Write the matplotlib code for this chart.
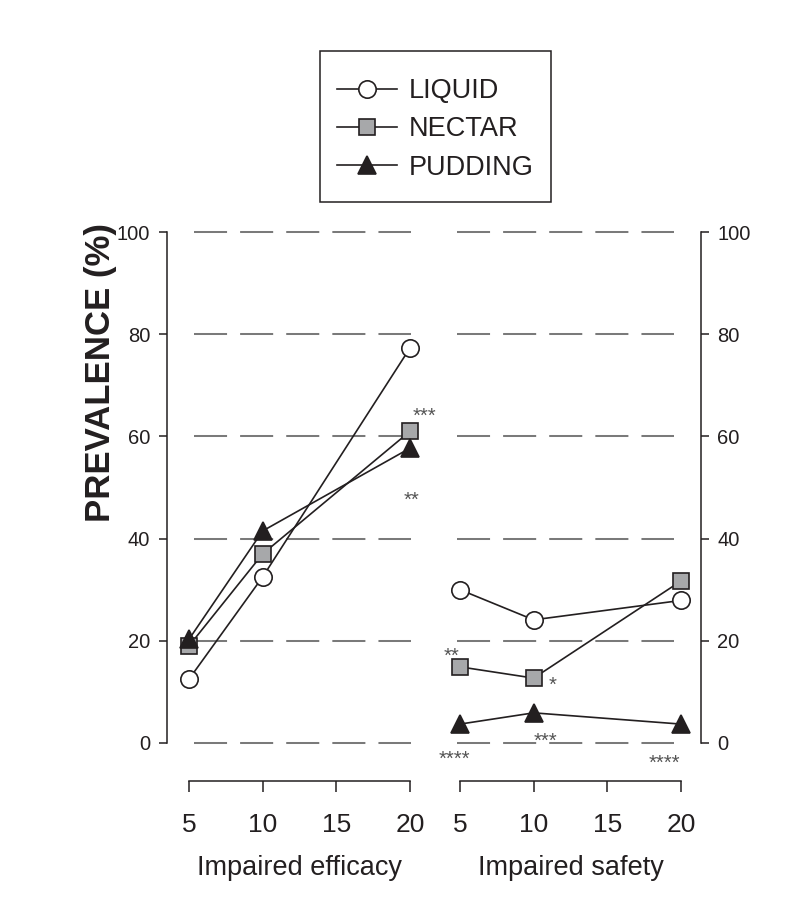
import matplotlib
matplotlib.use('Agg')
import matplotlib.pyplot as plt
from matplotlib.patches import Rectangle
from matplotlib.transforms import blended_transform_factory

plt.rcParams['font.family'] = ['Liberation Sans', 'DejaVu Sans']
plt.rcParams['lines.scale_dashes'] = False

# data
cues = [5, 10, 20]
efficacy_liquid = [12.5, 32.5, 77.3]
efficacy_nectar = [19.0, 37.0, 61.0]
efficacy_pudding = [20.3, 41.5, 57.7]
safety_liquid = [30.0, 24.1, 27.9]
safety_nectar = [14.9, 12.7, 31.7]
safety_pudding = [3.7, 5.9, 3.7]

series_names = ['LIQUID', 'NECTAR', 'PUDDING']
y_ticks = [0, 20, 40, 60, 80, 100]
x_ticks = [5, 10, 15, 20]

# significance marks: (text, x, y)
efficacy_marks = [('***', 21.0, 65.1), ('**', 20.1, 48.7)]
safety_marks = [('**', 4.4, 18.2), ('*', 11.25, 12.5), ('***', 10.8, 1.6),
                ('****', 4.6, -2.0), ('****', 18.9, -2.7)]

ink = '#231f20'
grid_col = '#7a7a7a'
W, H = 811, 899

fig = plt.figure(figsize=(W / 100, H / 100), dpi=100)
fig.patch.set_facecolor('white')

ax1 = fig.add_axes([167 / W, 1 - 743 / H, (435 - 167) / W, 511 / H])
ax2 = fig.add_axes([435 / W, 1 - 743 / H, (700.7 - 435) / W, 511 / H])

styles = [
    dict(marker='o', markerfacecolor='white', markersize=12.5),
    dict(marker='s', markerfacecolor='#a7a8aa', markersize=12),
    dict(marker='^', markerfacecolor=ink, markersize=13),
]


def draw_panel(ax, values, xlim, grid_from, grid_to, marks, label):
    ax.set_xlim(*xlim)
    ax.set_ylim(0, 100)
    ax.hlines(y_ticks, grid_from, grid_to, colors=grid_col, linewidth=1.45,
              linestyles=[(0, (23.8, 9.4))], zorder=1, clip_on=False)
    handles = []
    for vals, name, st in zip(values, series_names, styles):
        h, = ax.plot(cues, vals, color=ink, linewidth=1.2, markeredgecolor=ink,
                     markeredgewidth=1.2, label=name, clip_on=False, zorder=3, **st)
        handles.append(h)
    for txt, x, y in marks:
        ax.text(x, y - 2.3, txt, ha='center', va='baseline', fontsize=14.5,
                color='#555555', clip_on=False)
    ax.spines['top'].set_visible(False)
    ax.spines['bottom'].set_position(('outward', 27.4))
    ax.spines['bottom'].set_bounds(5, 20)
    ax.set_xticks(x_ticks)
    ax.set_yticks(y_ticks)
    ax.tick_params(axis='x', direction='out', length=8, width=1.1, pad=15,
                   labelsize=19, colors=ink)
    ax.tick_params(axis='y', direction='out', length=6, width=1.1, pad=6,
                   labelsize=14.5, colors=ink)
    for s in ax.spines.values():
        s.set_linewidth(1.1)
        s.set_color(ink)
    trans = blended_transform_factory(ax.transData, ax.transAxes)
    ax.text(12.5, (743 - 875) / 511, label, transform=trans, ha='center',
            va='baseline', fontsize=19.5, color=ink)
    ax.patch.set_visible(False)
    return handles


handles = draw_panel(ax1, [efficacy_liquid, efficacy_nectar, efficacy_pudding],
                     (3.507, 21.697), 5.34, 20.07, efficacy_marks, 'Impaired efficacy')
ax1.spines['right'].set_visible(False)
ax1.spines['left'].set_bounds(0, 100)

draw_panel(ax2, [safety_liquid, safety_nectar, safety_pudding],
           (3.303, 21.337), 4.80, 19.53, safety_marks, 'Impaired safety')
ax2.spines['left'].set_visible(False)
ax2.spines['right'].set_bounds(0, 100)
ax2.yaxis.tick_right()
ax2.tick_params(axis='y', left=False, right=True, labelleft=False, labelright=True)

fig.text(101 / W, 1 - 372 / H, 'PREVALENCE (%)', rotation=90, ha='center',
         va='center', fontsize=25, fontweight='bold', color=ink)

# legend: entries without frame, box drawn separately
leg = fig.legend(handles, series_names, loc='center left',
                 bbox_to_anchor=(337 / W, 1 - 129.5 / H), bbox_transform=fig.transFigure,
                 frameon=False, borderaxespad=0, borderpad=0, handlelength=2.2,
                 handletextpad=0.45, labelspacing=0.46, fontsize=19.5)
for t in leg.get_texts():
    t.set_color(ink)
fig.patches.append(Rectangle((320 / W, 1 - 202 / H), 231 / W, 151 / H,
                             transform=fig.transFigure, fill=False,
                             edgecolor=ink, linewidth=1.1))

fig.savefig('out.png', dpi=100)
